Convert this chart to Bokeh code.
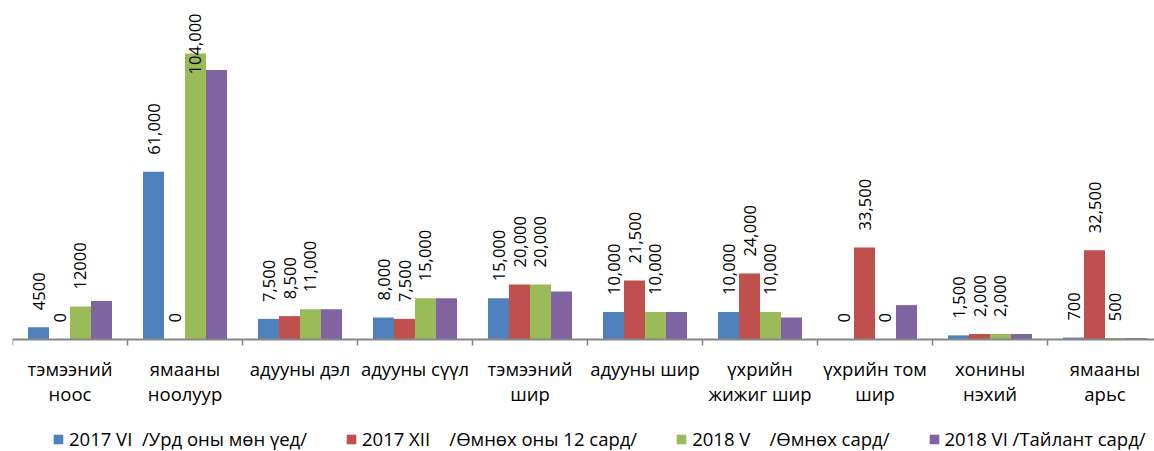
import numpy as np
from bokeh.plotting import figure
from bokeh.models import ColumnDataSource, Range1d, Legend, LegendItem
from bokeh.core.properties import value
from bokeh.embed import file_html
from bokeh.resources import INLINE

categories = ["тэмээний\nноос", "ямааны\nноолуур", "адууны дэл", "адууны сүүл", "тэмээний\nшир",
              "адууны шир", "үхрийн\nжижиг шир", "үхрийн том\nшир", "хонины\nнэхий", "ямааны\nарьс"]
series_names = ["2017 VI\u00a0 /Урд оны мөн үед/", "2017 XII\u00a0\u00a0\u00a0 /Өмнөх оны 12 сард/",
                "2018 V\u00a0\u00a0\u00a0 /Өмнөх сард/", "2018 VI /Тайлант сард/"]
colors = ["#4F81BD", "#C0504D", "#9BBB59", "#8064A2"]

v2017_vi = [4500, 61000, 7500, 8000, 15000, 10000, 10000, 0, 1500, 700]
v2017_xii = [0, 0, 8500, 7500, 20000, 21500, 24000, 33500, 2000, 32500]
v2018_v = [12000, 104000, 11000, 15000, 20000, 10000, 10000, 0, 2000, 500]
v2018_vi = [14000, 98000, 11000, 15000, 17500, 10000, 8000, 12500, 2000, 500]

lbl_2017_vi = ["4500", "61,000", "7,500", "8,000", "15,000", "10,000", "10,000", "0", "1,500", "700"]
lbl_2017_xii = ["0", "0", "8,500", "7,500", "20,000", "21,500", "24,000", "33,500", "2,000", "32,500"]
lbl_2018_v = ["12000", "104,000", "11,000", "15,000", "20,000", "10,000", "10,000", "0", "2,000", "500"]
lbl_2018_vi = [None] * 10

series_values = [v2017_vi, v2017_xii, v2018_v, v2018_vi]
series_labels = [lbl_2017_vi, lbl_2017_xii, lbl_2018_v, lbl_2018_vi]

FONT = "Open Sans"
LBL_PX = 16.5
W, H = 1154, 451
LEFT = 12
PLOT_PX = 339          # pixels from the top down to the baseline
PX_PER_UNIT = 339 / 123273
Y_END = PLOT_PX / PX_PER_UNIT
Y_START = -(H - PLOT_PX) / PX_PER_UNIT
X_END = (W - LEFT) / 115.0

p = figure(width=W, height=H,
           x_range=Range1d(0, X_END), y_range=Range1d(Y_START, Y_END),
           x_axis_location=None, y_axis_location=None,
           output_backend="svg", toolbar_location=None,
           min_border_left=LEFT, min_border_right=0, min_border_top=0, min_border_bottom=0)
p.outline_line_color = None
p.grid.visible = False
p.background_fill_color = "white"
p.border_fill_color = "white"

centers = np.arange(len(categories)) + 0.5
bw = 0.1826
offsets = (np.arange(4) - 1.5) * bw

renderers = []
for i in range(4):
    src = ColumnDataSource(dict(x=centers + offsets[i], top=series_values[i]))
    r = p.vbar(x="x", top="top", width=bw, bottom=0, source=src,
               fill_color=colors[i], line_color=None)
    renderers.append(r)

# category axis: baseline and separator ticks
p.segment(x0=[0], y0=[0], x1=[X_END], y1=[0], line_color="#868686", line_width=2)
bounds = list(range(0, len(categories) + 1))
p.segment(x0=bounds, y0=[0] * len(bounds), x1=bounds, y1=[-6 / PX_PER_UNIT] * len(bounds),
          line_color="#868686", line_width=1.5)

line1 = [c.split("\n")[0] for c in categories]
line2 = [(c.split("\n") + [""])[1] for c in categories]
cat_src = ColumnDataSource(dict(x=list(centers) + list(centers),
                                y=[-29 / PX_PER_UNIT] * len(centers) + [-54 / PX_PER_UNIT] * len(centers),
                                t=line1 + line2))
p.text(x="x", y="y", text="t", source=cat_src, text_align="center", text_baseline="middle",
       text_font=value(FONT), text_font_size="18.5px", text_color="black")

# value labels
norm = dict(x=[], y=[], t=[])
clamp = dict(x=[], y=[], t=[])
for i in range(4):
    for j, lab in enumerate(series_labels[i]):
        if lab is None:
            continue
        est_len = sum(0.26 if ch == "," else 0.572 for ch in lab) * LBL_PX
        top_px = series_values[i][j] * PX_PER_UNIT
        if top_px + 17 + est_len > PLOT_PX - 10:
            clamp["x"].append(centers[j] + offsets[i])
            clamp["y"].append(Y_END - 13 / PX_PER_UNIT)
            clamp["t"].append(lab)
        else:
            norm["x"].append(centers[j] + offsets[i])
            norm["y"].append(series_values[i][j])
            norm["t"].append(lab)

p.text(x="x", y="y", text="t", source=ColumnDataSource(norm), angle=np.pi / 2,
       text_align="left", text_baseline="middle", y_offset=-17,
       text_font=value(FONT), text_font_size=f"{LBL_PX}px", text_color="black")
p.text(x="x", y="y", text="t", source=ColumnDataSource(clamp), angle=np.pi / 2,
       text_align="right", text_baseline="middle",
       text_font=value(FONT), text_font_size=f"{LBL_PX}px", text_color="black")

legend = Legend(items=[LegendItem(label=series_names[i], renderers=[renderers[i]]) for i in range(4)],
                orientation="horizontal", location=(40, 0),
                label_text_font=FONT, label_text_font_size="18.5px", label_text_color="black",
                glyph_width=12, glyph_height=12, label_standoff=5, spacing=38,
                border_line_alpha=0, background_fill_alpha=0, padding=0, margin=0)
p.add_layout(legend, "center")

open("out.html", "w").write(file_html(p, INLINE))
